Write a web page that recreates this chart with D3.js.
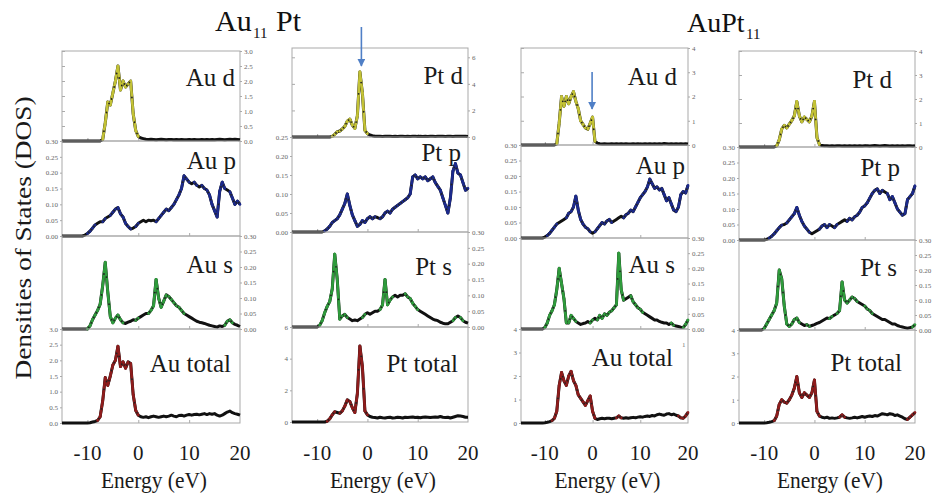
<!DOCTYPE html>
<html>
<head>
<meta charset="utf-8">
<script src="https://cdn.jsdelivr.net/npm/d3@7"></script>
<style>
  body { margin: 0; background: #fff; }
  svg text { font-family: "Liberation Serif", "Times New Roman", Tinos, "DejaVu Serif", "Noto Serif", serif !important; }
</style>
</head>
<body>
<div id="chart"></div>
<script>
// energy grid of every series: -15 eV to 20 eV, 0.5 eV apart
var energyRange = [-15, 20];
var energyStep = 0.5;
var xTicks = [-10, 0, 10, 20];
var xTitle = "Energy (eV)";
var yTitle = "Densities of States (DOS)";

// Au11Pt, Au atoms
var au11pt_Au_d = [0,0,0,0,0,0,0,0,0,0,0,0,0,0,0,0,
  0.05,0.6,1.3,1.2,1.6,2.0,2.5,1.7,2.0,1.8,1.9,2.0,0.9,0.35,0.15,0.1,0.08,
  0.06,0.05,0.06,0.05,0.04,0.05,0.06,0.05,0.04,0.05, 0.05,0.04,0.05,0.04,0.05,0.04,0.04,0.05,0.04,0.05,
  0.04,0.04,0.05,0.04,0.05,0.04,0.05,0.04,0.05,0.06, 0.05,0.04,0.05,0.06,0.05,0.06,0.05,0.04];
var au11pt_Au_p = [0,0,0,0,0,0,0,0,0,
  0.003,0.008,0.015,0.025,0.035,0.04,0.045,0.045,0.055,0.06,
  0.065,0.075,0.085,0.09,0.07,0.06,0.04,0.03,0.022,0.025,
  0.03,0.04,0.045,0.05,0.045,0.05,0.048,0.05,0.045,0.055,
  0.065,0.075,0.085,0.08,0.09,0.1,0.115,0.13,0.15,0.19,
  0.18,0.17,0.165,0.17,0.16,0.155,0.16,0.15,0.145,0.13,
  0.1,0.08,0.06,0.14,0.17,0.15,0.145,0.14,0.12,0.1,
  0.11,0.1];
var au11pt_Au_s = [0,0,0,0,0,0,0,0,0,0,0,
  0.01,0.03,0.045,0.06,0.08,0.14,0.215,0.12,0.04,0.02,
  0.035,0.045,0.03,0.02,0.018,0.022,0.025,0.03,0.028,0.035,
  0.04,0.045,0.05,0.05,0.06,0.075,0.16,0.1,0.07,0.09,
  0.11,0.105,0.095,0.085,0.075,0.07,0.06,0.05,0.045,0.04,
  0.035,0.03,0.025,0.022,0.02,0.018,0.015,0.012,0.01,0.008,
  0.006,0.01,0.008,0.012,0.025,0.03,0.02,0.015,0.012,0.008];
var au11pt_Au_total = [0,0,0,0,0,0,0,0,0,0,0,
  0.01,0.03,0.05,0.08,0.2,0.7,1.45,1.2,1.5,1.85,
  2.0,2.45,1.8,1.95,1.75,1.95,1.9,0.9,0.4,0.25,
  0.2,0.18,0.2,0.17,0.2,0.22,0.2,0.18,0.2,0.22,
  0.2,0.22,0.25,0.22,0.2,0.24,0.25,0.22,0.25,0.27,
  0.25,0.27,0.28,0.26,0.28,0.3,0.27,0.3,0.28,0.3,
  0.25,0.22,0.25,0.3,0.35,0.38,0.33,0.3,0.28,0.25];

// Au11Pt, Pt atom
var au11pt_Pt_d = [0,0,0,0,0,0,0,0,0,0,0,0,0,0,0,0,
  0.05,0.2,0.4,0.45,0.6,0.8,1.2,1.35,0.9,0.65,1.6,4.9,3.3,0.5,0.25,0.15,0.1,
  0.06,0.05,0.05,0.04,0.05,0.06,0.05,0.04,0.05,0.04, 0.05,0.05,0.04,0.05,0.04,0.05,0.05,0.04,0.05,0.04,
  0.05,0.04,0.05,0.05,0.04,0.05,0.06,0.05,0.04,0.05, 0.05,0.04,0.05,0.05,0.06,0.05,0.05,0.04];
var au11pt_Pt_p = [0,0,0,0,0,0,0,0,0,0,0,0,0,
  0.003,0.008,0.015,0.025,0.03,0.035,0.045,0.06,0.075,0.1,
  0.07,0.045,0.03,0.015,0.02,0.03,0.025,0.035,0.04,0.035,
  0.04,0.038,0.035,0.04,0.05,0.055,0.05,0.06,0.065,0.07,
  0.075,0.08,0.085,0.09,0.1,0.145,0.15,0.14,0.145,0.14,
  0.145,0.135,0.14,0.145,0.13,0.12,0.11,0.09,0.07,0.05,
  0.09,0.16,0.18,0.155,0.15,0.13,0.11,0.115];
var au11pt_Pt_s = [0,0,0,0,0,0,0,0,0,0,0,
  0.005,0.02,0.045,0.065,0.08,0.12,0.23,0.15,0.025,0.035,
  0.04,0.03,0.025,0.02,0.022,0.02,0.025,0.03,0.04,0.045,
  0.04,0.045,0.05,0.05,0.055,0.07,0.15,0.07,0.085,0.095,
  0.1,0.095,0.1,0.1,0.105,0.095,0.09,0.075,0.065,0.055,
  0.05,0.045,0.04,0.035,0.03,0.025,0.022,0.02,0.015,0.012,
  0.01,0.01,0.015,0.02,0.03,0.035,0.03,0.02,0.015,0.012];
var au11pt_Pt_total = [0,0,0,0,0,0,0,0,0,0,0,0,0,0,
  0.05,0.2,0.45,0.65,0.6,0.55,0.7,1.0,1.4,1.3,0.9,0.6,1.8,4.8,3.5,0.7,0.45,0.35,0.3,
  0.28,0.25,0.3,0.27,0.25,0.28,0.3,0.25,0.27,0.3, 0.28,0.25,0.3,0.28,0.3,0.32,0.28,0.3,0.27,0.3,
  0.32,0.3,0.28,0.3,0.32,0.3,0.35,0.3,0.28,0.3, 0.25,0.3,0.35,0.4,0.38,0.35,0.3,0.3];

// AuPt11, Au atom
var aupt11_Au_d = [0,0,0,0,0,0,0,0,0,0,0,0,0,0,0,
  0.05,0.9,2.0,1.6,2.0,1.7,2.0,2.2,1.8,1.5,1.0,0.85,0.7,0.65,0.9,1.15,0.15,0.08,
  0.05,0.04,0.05,0.04,0.04,0.05,0.04,0.05,0.04,0.05, 0.04,0.05,0.04,0.04,0.05,0.04,0.05,0.04,0.04,0.05,
  0.04,0.05,0.04,0.05,0.04,0.05,0.04,0.06,0.05,0.04, 0.05,0.04,0.05,0.04,0.05,0.04,0.05,0.04];
var aupt11_Au_p = [0,0,0,0,0,0,0,0,0,0,
  0.003,0.008,0.015,0.025,0.035,0.045,0.05,0.055,0.06,0.065,
  0.08,0.085,0.1,0.135,0.09,0.06,0.045,0.035,0.03,0.02,
  0.015,0.02,0.03,0.04,0.05,0.045,0.055,0.06,0.05,0.055,
  0.06,0.065,0.07,0.065,0.075,0.08,0.09,0.085,0.1,0.115,
  0.13,0.14,0.15,0.165,0.19,0.175,0.16,0.165,0.155,0.16,
  0.14,0.12,0.13,0.11,0.09,0.085,0.1,0.14,0.15,0.145,
  0.17];
var aupt11_Au_s = [0,0,0,0,0,0,0,0,0,0,
  0.005,0.02,0.045,0.06,0.08,0.13,0.2,0.15,0.1,0.02,
  0.02,0.045,0.035,0.025,0.02,0.015,0.018,0.02,0.025,0.02,
  0.03,0.035,0.03,0.045,0.035,0.05,0.045,0.055,0.06,0.07,
  0.08,0.25,0.13,0.095,0.1,0.105,0.11,0.09,0.08,0.07,
  0.065,0.055,0.05,0.045,0.04,0.035,0.03,0.03,0.025,0.022,
  0.02,0.02,0.015,0.02,0.012,0.01,0.008,0.006,0.005,0.015,
  0.03];
var aupt11_Au_total = [0,0,0,0,0,0,0,0,0,0,
  0.01,0.03,0.06,0.1,0.2,0.5,1.6,2.15,1.8,1.6,
  2.0,2.2,1.8,1.6,1.2,1.05,0.9,0.75,0.95,1.15,
  0.5,0.2,0.15,0.18,0.2,0.18,0.2,0.2,0.18,0.2,
  0.22,0.3,0.22,0.2,0.22,0.2,0.22,0.24,0.22,0.25,
  0.27,0.25,0.28,0.3,0.28,0.32,0.3,0.35,0.38,0.35,
  0.33,0.38,0.4,0.35,0.38,0.33,0.3,0.22,0.2,0.3,
  0.45];

// AuPt11, Pt atoms
var aupt11_Pt_d = [0,0,0,0,0,0,0,0,0,0,0,0,0,0,0,
  0.05,0.3,0.75,0.9,0.8,0.95,1.1,1.3,1.9,1.3,1.05,1.25,1.15,1.05,1.3,1.9,0.4,0.1,
  0.06,0.05,0.05,0.04,0.05,0.04,0.05,0.05,0.04,0.05, 0.04,0.05,0.04,0.05,0.04,0.05,0.04,0.05,0.05,0.04,
  0.05,0.06,0.05,0.04,0.05,0.06,0.05,0.04,0.05,0.04, 0.05,0.04,0.05,0.04,0.05,0.05,0.04,0.05];
var aupt11_Pt_p = [0,0,0,0,0,0,0,0,0,0,0,
  0.002,0.006,0.012,0.02,0.03,0.04,0.048,0.05,0.055,0.065,
  0.075,0.085,0.105,0.08,0.06,0.045,0.035,0.025,0.02,0.025,
  0.03,0.035,0.045,0.05,0.04,0.05,0.045,0.04,0.05,0.055,
  0.06,0.065,0.06,0.07,0.065,0.075,0.08,0.09,0.105,0.11,
  0.12,0.135,0.15,0.16,0.165,0.15,0.16,0.155,0.15,0.13,
  0.14,0.12,0.1,0.09,0.08,0.085,0.13,0.14,0.15,0.175];
var aupt11_Pt_s = [0,0,0,0,0,0,0,0,0,0,
  0.005,0.02,0.035,0.05,0.065,0.09,0.2,0.17,0.08,0.02,
  0.012,0.02,0.035,0.04,0.025,0.02,0.015,0.018,0.012,0.015,
  0.018,0.022,0.025,0.03,0.035,0.04,0.038,0.045,0.05,0.055,
  0.065,0.16,0.1,0.09,0.1,0.11,0.105,0.095,0.09,0.085,
  0.08,0.07,0.065,0.055,0.05,0.045,0.04,0.035,0.035,0.03,
  0.025,0.02,0.02,0.015,0.012,0.01,0.008,0.006,0.008,0.01,
  0.018];
var aupt11_Pt_total = [0,0,0,0,0,0,0,0,0,0,0,
  0.01,0.03,0.06,0.1,0.3,0.8,1.0,0.9,0.85,1.0,
  1.2,1.5,2.0,1.3,1.1,1.3,1.2,1.1,1.3,1.85,
  0.5,0.3,0.25,0.22,0.25,0.2,0.22,0.2,0.22,0.25,
  0.35,0.25,0.22,0.2,0.22,0.25,0.22,0.25,0.28,0.25,
  0.28,0.3,0.28,0.32,0.3,0.35,0.4,0.38,0.35,0.4,
  0.38,0.32,0.35,0.3,0.25,0.18,0.15,0.25,0.35,0.45];

// y axes of the panels and their tick labels
var ticksHalf = [0, 0.5, 1, 1.5, 2, 2.5, 3];
var ticksSmall = [0, 0.05, 0.1, 0.15, 0.2, 0.25, 0.3];
var ticksSmall25 = [0, 0.05, 0.1, 0.15, 0.2, 0.25];
var ticksEven = [0, 2, 4, 6];
var ticksUnit = [0, 1, 2, 3, 4];

var orbitalColors = { d: "#c3c236", p: "#1c2a8c", s: "#2f9b3c", total: "#8e1c1c" };
var serif = "'Liberation Serif', 'Times New Roman', Tinos, 'DejaVu Serif', serif";

// geometry of the 4 columns (left, right) and the 5 panel borders of each
var colX = [[62, 240], [292, 468], [521, 688], [739, 915]];
var rowY = [[51, 141, 236, 329, 423], [48, 137, 232, 327, 422], [48, 145, 238, 329, 423], [51, 147, 240, 330, 423]];
// where the panel label ends (x) and sits (baseline)
var labelAt = [
  [[235, 86], [236, 169], [233, 273], [231, 372]],
  [[463, 84], [461, 161], [452, 275], [458, 372]],
  [[677, 85], [685, 174], [675, 273], [673, 366]],
  [[892, 88], [900, 176], [897, 276], [902, 371]]
];

var panels = [
  { col: 0, row: 0, orb: "d", label: "Au d", values: au11pt_Au_d, domain: [0, 3], ticks: ticksHalf, fmt: ".1f", side: "right" },
  { col: 0, row: 1, orb: "p", label: "Au p", values: au11pt_Au_p, domain: [0, 0.3], ticks: ticksSmall, fmt: ".2f", side: "left" },
  { col: 0, row: 2, orb: "s", label: "Au s", values: au11pt_Au_s, domain: [0, 0.3], ticks: ticksSmall, fmt: ".2f", side: "right" },
  { col: 0, row: 3, orb: "total", label: "Au total", values: au11pt_Au_total, domain: [0, 3], ticks: ticksHalf, fmt: ".1f", side: "left" },
  { col: 1, row: 0, orb: "d", label: "Pt d", values: au11pt_Pt_d, domain: [0, 6.7], ticks: ticksEven, fmt: "d", side: "right" },
  { col: 1, row: 1, orb: "p", label: "Pt p", values: au11pt_Pt_p, domain: [0, 0.25], ticks: ticksSmall25, fmt: ".2f", side: "left" },
  { col: 1, row: 2, orb: "s", label: "Pt s", values: au11pt_Pt_s, domain: [0, 0.3], ticks: ticksSmall, fmt: ".2f", side: "right" },
  { col: 1, row: 3, orb: "total", label: "Pt total", values: au11pt_Pt_total, domain: [0, 6], ticks: ticksEven, fmt: "d", side: "left" },
  { col: 2, row: 0, orb: "d", label: "Au d", values: aupt11_Au_d, domain: [0, 4], ticks: ticksUnit, fmt: "d", side: "right" },
  { col: 2, row: 1, orb: "p", label: "Au p", values: aupt11_Au_p, domain: [0, 0.3], ticks: ticksSmall, fmt: ".2f", side: "left" },
  { col: 2, row: 2, orb: "s", label: "Au s", values: aupt11_Au_s, domain: [0, 0.3], ticks: ticksSmall, fmt: ".2f", side: "right" },
  { col: 2, row: 3, orb: "total", label: "Au total", values: aupt11_Au_total, domain: [0, 4], ticks: ticksUnit, fmt: "d", side: "left" },
  { col: 3, row: 0, orb: "d", label: "Pt d", values: aupt11_Pt_d, domain: [0, 4], ticks: ticksUnit, fmt: "d", side: "right" },
  { col: 3, row: 1, orb: "p", label: "Pt p", values: aupt11_Pt_p, domain: [0, 0.3], ticks: ticksSmall, fmt: ".2f", side: "left" },
  { col: 3, row: 2, orb: "s", label: "Pt s", values: aupt11_Pt_s, domain: [0, 0.3], ticks: ticksSmall, fmt: ".2f", side: "right" },
  { col: 3, row: 3, orb: "total", label: "Pt total", values: aupt11_Pt_total, domain: [0, 4], ticks: ticksUnit, fmt: "d", side: "left" }
];

// blue arrows marking the d peaks near the Fermi level
var arrows = [{ col: 1, energy: -1.2, y0: 27, y1: 66 }, { col: 2, energy: -0.1, y0: 72, y1: 109 }];

var svg = d3.select("#chart").append("svg")
  .attr("width", 932).attr("height", 501)
  .style("background", "#fff");

svg.append("defs").append("marker")
  .attr("id", "head").attr("viewBox", "0 0 10 10")
  .attr("refX", 9).attr("refY", 5)
  .attr("markerWidth", 5).attr("markerHeight", 5)
  .attr("orient", "auto")
  .append("path").attr("d", "M0,0 L10,5 L0,10 z").attr("fill", "#4f7fc6");

var xScales = colX.map(function (c) {
  return d3.scaleLinear().domain(energyRange).range(c);
});

panels.forEach(function (p) {
  var x = xScales[p.col];
  var y0 = rowY[p.col][p.row + 1], y1 = rowY[p.col][p.row];
  var y = d3.scaleLinear().domain(p.domain).range([y0, y1]);
  var x0 = colX[p.col][0], x1 = colX[p.col][1];
  var g = svg.append("g");

  // panel frame
  g.append("rect")
    .attr("x", x0).attr("y", y1)
    .attr("width", x1 - x0).attr("height", y0 - y1)
    .attr("fill", "none").attr("stroke", "#a9a9a9").attr("stroke-width", 1);

  // labelled y axis
  var axis = (p.side == "right" ? d3.axisRight(y) : d3.axisLeft(y))
    .tickValues(p.ticks).tickFormat(d3.format(p.fmt))
    .tickSize(2).tickPadding(2);
  var ax = g.append("g")
    .attr("transform", "translate(" + (p.side == "right" ? x1 : x0) + ",0)")
    .attr("font-family", serif)
    .call(axis);
  ax.select(".domain").remove();
  ax.selectAll("line").attr("stroke", "#aaa");
  ax.selectAll("text")
    .attr("fill", "#666")
    .style("font-size", "7px");

  // the d panels also carry bare ticks on the left
  if (p.orb == "d") {
    var bare = g.append("g").attr("transform", "translate(" + x0 + ",0)")
      .call(d3.axisRight(y).tickValues(p.ticks).tickSize(3).tickFormat(""));
    bare.select(".domain").remove();
    bare.selectAll("line").attr("stroke", "#aaa");
  }

  // energy ticks on the bottom edge
  var bx = g.append("g").attr("transform", "translate(0," + y0 + ")")
    .call(d3.axisTop(x).tickValues([-10, 0, 10]).tickSize(3).tickFormat(""));
  bx.select(".domain").remove();
  bx.selectAll("line").attr("stroke", "#aaa");

  // the curve: black line, coloured where it climbs or falls
  var pts = p.values.map(function (v, i) {
    return [x(energyRange[0] + i * energyStep), y(v)];
  });
  g.append("path")
    .datum(pts)
    .attr("d", d3.line())
    .attr("fill", "none")
    .attr("stroke", "#111")
    .attr("stroke-width", 3)
    .attr("stroke-linejoin", "round");

  var steep = d3.pairs(pts).filter(function (s) {
    return Math.abs(s[1][1] - s[0][1]) > 1.8;
  });
  g.selectAll("line.seg")
    .data(steep)
    .enter()
    .append("line")
    .attr("x1", function (s) { return s[0][0]; })
    .attr("y1", function (s) { return s[0][1]; })
    .attr("x2", function (s) { return s[1][0]; })
    .attr("y2", function (s) { return s[1][1]; })
    .attr("stroke", orbitalColors[p.orb])
    .attr("stroke-width", 2.7)
    .attr("stroke-linecap", "round");
  g.selectAll("circle.dot")
    .data(steep)
    .enter()
    .append("circle")
    .attr("cx", function (s) { return (s[0][0] + s[1][0]) / 2; })
    .attr("cy", function (s) { return (s[0][1] + s[1][1]) / 2; })
    .attr("r", 0.9)
    .attr("fill", "#222");

  // panel label
  var la = labelAt[p.col][p.row];
  g.append("text")
    .attr("x", la[0]).attr("y", la[1])
    .attr("text-anchor", "end")
    .attr("fill", "#1a1a1a")
    .attr("font-family", serif)
    .style("font-size", "25px")
    .text(p.label);
});

// energy tick labels and title under every column
xScales.forEach(function (x, c) {
  svg.append("g")
    .selectAll("text")
    .data(xTicks)
    .enter()
    .append("text")
    .attr("x", function (d) { return x(d); })
    .attr("y", 460)
    .attr("text-anchor", "middle")
    .attr("fill", "#1a1a1a")
    .attr("font-family", serif)
    .style("font-size", "21px")
    .text(function (d) { return d; });
  svg.append("text")
    .attr("x", (colX[c][0] + colX[c][1]) / 2 + 3)
    .attr("y", 488)
    .attr("text-anchor", "middle")
    .attr("fill", "#1a1a1a")
    .attr("font-family", serif)
    .attr("textLength", 106)
    .attr("lengthAdjust", "spacingAndGlyphs")
    .style("font-size", "24px")
    .text(xTitle);
});

svg.append("text")
  .attr("transform", "translate(31,238) rotate(-90)")
  .attr("text-anchor", "middle")
  .attr("fill", "#1a1a1a")
  .attr("font-family", serif)
  .attr("textLength", 283)
  .attr("lengthAdjust", "spacingAndGlyphs")
  .style("font-size", "24px")
  .text(yTitle);

// cluster titles with subscripts
var t1 = svg.append("text").attr("fill", "#111").attr("font-family", serif).style("font-size", "30px");
t1.append("tspan").attr("x", 215).attr("y", 31).text("Au");
t1.append("tspan").attr("x", 253).attr("y", 38).style("font-size", "15px").text("11");
t1.append("tspan").attr("x", 276).attr("y", 31).text("Pt");
var t2 = svg.append("text").attr("fill", "#111").attr("font-family", serif).style("font-size", "28px");
t2.append("tspan").attr("x", 687).attr("y", 32).text("AuPt");
t2.append("tspan").attr("x", 746).attr("y", 39).style("font-size", "15px").text("11");

// stray axis digit next to the AuPt11 Au total panel
svg.append("text").attr("x", 682).attr("y", 347).attr("fill", "#777")
  .attr("font-family", serif).style("font-size", "7px").text("1");

arrows.forEach(function (a) {
  var ax = xScales[a.col](a.energy);
  svg.append("line")
    .attr("x1", ax).attr("x2", ax)
    .attr("y1", a.y0).attr("y2", a.y1)
    .attr("stroke", "#4f7fc6").attr("stroke-width", 1.6)
    .attr("marker-end", "url(#head)");
});
</script>
</body>
</html>
